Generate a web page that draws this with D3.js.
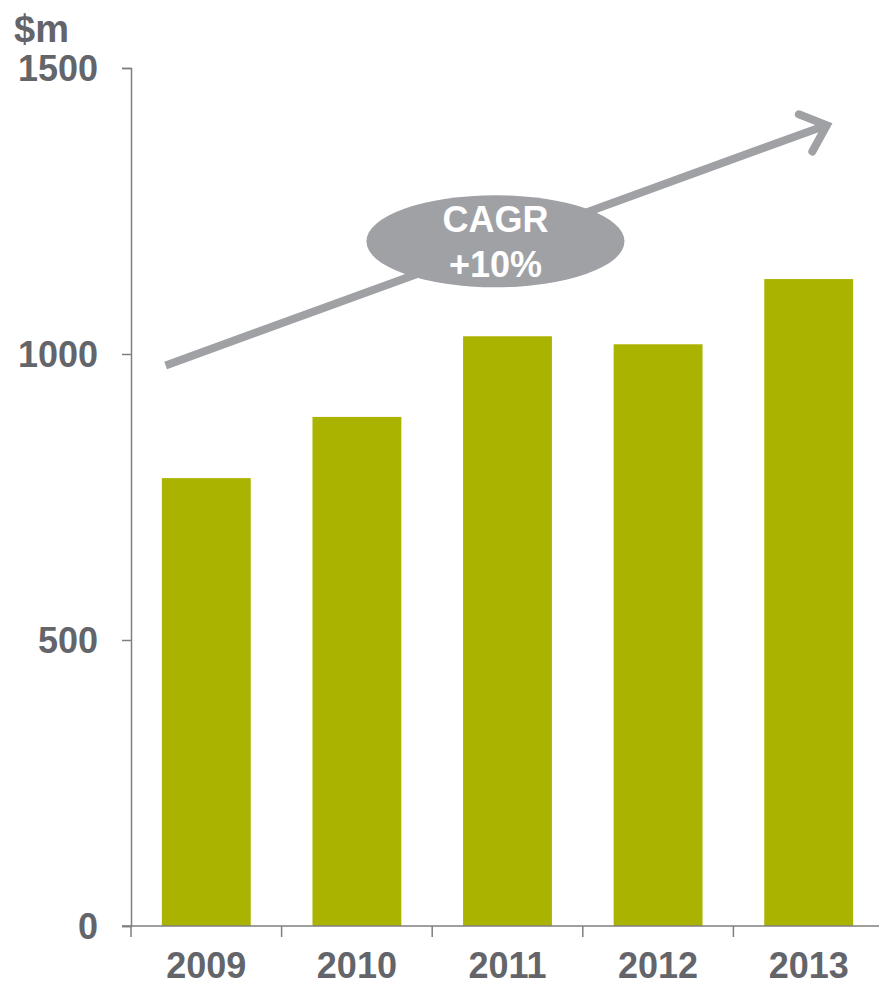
<!DOCTYPE html>
<html><head><meta charset="utf-8">
<script src="https://cdn.jsdelivr.net/npm/d3@7"></script>
<style>body{margin:0;background:#fff}svg{display:block}text{font-family:"Liberation Sans",Arial,sans-serif;font-weight:bold}</style>
</head><body>
<script>
const years = ["2009","2010","2011","2012","2013"];
const revenue = [783, 890, 1031, 1017, 1131];
const yTicks = [0, 500, 1000, 1500];
const unitLabel = "$m";
const cagrLines = ["CAGR", "+10%"];
const arrowFrom = [-0.27, 980];
const arrowTo = [4.12, 1400];
const bubbleAt = [1.92, 1197];

const W = 879, H = 985;
const svg = d3.select("body").append("svg").attr("width", W).attr("height", H);
const x0 = 131, x1 = 884, yTop = 68, yBot = 926;
const x = d3.scaleBand().domain(years).range([x0, x1]).paddingInner(0.41).paddingOuter(0.205);
const xi = d3.scaleLinear().domain([-0.5, years.length - 0.5]).range([x0, x1]);
const y = d3.scaleLinear().domain([0, 1500]).range([yBot, yTop]);
const axisCol = "#7f7f7f", textCol = "#63656a", barCol = "#aab300", grey = "#a0a1a5";

// bars
svg.selectAll("rect.bar").data(revenue).join("rect")
  .attr("x", (d, i) => x(years[i])).attr("width", x.bandwidth())
  .attr("y", d => y(d)).attr("height", d => y(0) - y(d))
  .attr("fill", barCol);

// y axis
const ya = svg.append("g").attr("transform", `translate(${x0},0)`)
  .call(d3.axisLeft(y).tickValues(yTicks).tickFormat(d3.format("d")).tickSize(9).tickPadding(24));
ya.select(".domain").attr("stroke", axisCol).attr("stroke-width", 1.5);
ya.selectAll(".tick line").attr("stroke", axisCol).attr("stroke-width", 1.5);
ya.selectAll(".tick text").attr("fill", textCol).attr("font-size", 36).attr("dy", "0.36em")
  .style("font-family", '"Liberation Sans",Arial,sans-serif').style("font-weight", "bold");

// x axis
const xa = svg.append("g").attr("transform", `translate(0,${yBot})`);
xa.append("line").attr("x1", x0 - 9).attr("x2", W).attr("y1", 0).attr("y2", 0)
  .attr("stroke", axisCol).attr("stroke-width", 1.5);
xa.selectAll("line.tk").data(years).join("line").attr("class", "tk")
  .attr("x1", (d, i) => xi(i - 0.5)).attr("x2", (d, i) => xi(i - 0.5))
  .attr("y1", 0).attr("y2", 11).attr("stroke", axisCol).attr("stroke-width", 1.5);
xa.selectAll("text").data(years).join("text")
  .attr("x", d => x(d) + x.bandwidth() / 2).attr("y", 52)
  .attr("text-anchor", "middle").attr("fill", textCol).attr("font-size", 36).text(d => d);

// unit label
svg.append("text").attr("x", 14).attr("y", 42).attr("fill", textCol).attr("font-size", 38).text(unitLabel);

// CAGR arrow
const ax1 = xi(arrowFrom[0]), ay1 = y(arrowFrom[1]), ax2 = xi(arrowTo[0]), ay2 = y(arrowTo[1]);
svg.append("line").attr("x1", ax1).attr("y1", ay1).attr("x2", ax2 - 6).attr("y2", ay2 + 2)
  .attr("stroke", grey).attr("stroke-width", 8);
const ang = Math.atan2(ay2 - ay1, ax2 - ax1);
const L = 30, spread = 0.72;
const p1 = [ax2 - L * Math.cos(ang - spread), ay2 - L * Math.sin(ang - spread)];
const p2 = [ax2 - L * Math.cos(ang + spread), ay2 - L * Math.sin(ang + spread)];
svg.append("path").attr("d", `M${p1[0]},${p1[1]}L${ax2},${ay2}L${p2[0]},${p2[1]}`)
  .attr("fill", "none").attr("stroke", grey).attr("stroke-width", 8)
  .attr("stroke-linecap", "round").attr("stroke-linejoin", "miter");

// bubble
const bx = xi(bubbleAt[0]), by = y(bubbleAt[1]);
svg.append("ellipse").attr("cx", bx).attr("cy", by).attr("rx", 129).attr("ry", 46).attr("fill", grey);
svg.selectAll("text.cagr").data(cagrLines).join("text").attr("class", "cagr")
  .attr("x", bx).attr("y", (d, i) => by - 9 + i * 45).attr("text-anchor", "middle")
  .attr("fill", "#fff").attr("font-size", 36).text(d => d);
</script>
</body></html>
